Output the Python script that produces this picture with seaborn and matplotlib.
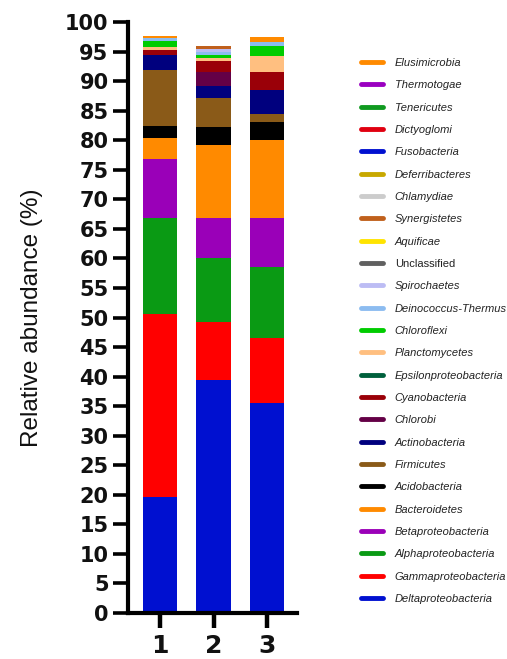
import numpy as np
import pandas as pd
import seaborn as sns
import matplotlib
matplotlib.use("Agg")
import matplotlib.pyplot as plt
from matplotlib.lines import Line2D

# Samples and phyla (bottom of the stack first)
samples = ["1", "2", "3"]
phyla = [
    "Deltaproteobacteria", "Gammaproteobacteria", "Alphaproteobacteria",
    "Betaproteobacteria", "Bacteroidetes", "Acidobacteria", "Firmicutes",
    "Actinobacteria", "Chlorobi", "Cyanobacteria", "Epsilonproteobacteria",
    "Planctomycetes", "Chloroflexi", "Deinococcus-Thermus", "Spirochaetes",
    "Unclassified", "Aquificae", "Synergistetes", "Chlamydiae",
    "Deferribacteres", "Fusobacteria", "Dictyoglomi", "Tenericutes",
    "Thermotogae", "Elusimicrobia",
]
colors = [
    "#0010d0", "#ff0000", "#0a9a14", "#9a00b8", "#ff8a00", "#000000",
    "#8a5a18", "#00007e", "#640046", "#9a0008", "#00603c", "#ffbf80",
    "#00cc00", "#8cbcf0", "#bcbcf4", "#606060", "#ffe400", "#c0601c",
    "#cccccc", "#c8a800", "#0010d0", "#e00010", "#109a20", "#9a00c0",
    "#ff8a00",
]

# Relative abundance (%) per phylum for samples 1, 2, 3
deltaproteobacteria = [19.6, 39.4, 35.6]
gammaproteobacteria = [31.0, 9.9, 11.0]
alphaproteobacteria = [16.2, 10.7, 12.0]
betaproteobacteria = [10.0, 6.9, 8.2]
bacteroidetes = [3.6, 12.3, 13.3]
acidobacteria = [2.0, 3.1, 3.0]
firmicutes = [9.5, 4.8, 1.4]
actinobacteria = [2.5, 2.0, 4.0]
chlorobi = [0.0, 2.4, 0.0]
cyanobacteria = [0.9, 1.9, 3.0]
epsilonproteobacteria = [0.0, 0.0, 0.0]
planctomycetes = [0.5, 0.5, 2.7]
chloroflexi = [1.0, 0.6, 1.8]
deinococcus_thermus = [0.5, 0.4, 0.6]
spirochaetes = [0.0, 0.6, 0.0]
unclassified = [0.0, 0.0, 0.0]
aquificae = [0.0, 0.0, 0.0]
synergistetes = [0.0, 0.5, 0.0]
chlamydiae = [0.0, 0.0, 0.0]
deferribacteres = [0.0, 0.0, 0.0]
fusobacteria = [0.0, 0.0, 0.0]
dictyoglomi = [0.0, 0.0, 0.0]
tenericutes = [0.0, 0.0, 0.0]
thermotogae = [0.0, 0.0, 0.0]
elusimicrobia = [0.4, 0.0, 0.8]

values = [
    deltaproteobacteria, gammaproteobacteria, alphaproteobacteria,
    betaproteobacteria, bacteroidetes, acidobacteria, firmicutes,
    actinobacteria, chlorobi, cyanobacteria, epsilonproteobacteria,
    planctomycetes, chloroflexi, deinococcus_thermus, spirochaetes,
    unclassified, aquificae, synergistetes, chlamydiae, deferribacteres,
    fusobacteria, dictyoglomi, tenericutes, thermotogae, elusimicrobia,
]

rows = []
for name, vals in zip(phyla, values):
    for s, v in zip(samples, vals):
        rows.append({"sample": int(s), "phylum": name, "abundance": v})
df = pd.DataFrame(rows)

sns.set_style("ticks")
plt.rcParams["font.family"] = ["Liberation Sans", "DejaVu Sans"]

fig = plt.figure(figsize=(5.07, 6.59), dpi=100)
ax = fig.add_axes([128 / 507, 1 - 613 / 659, (297 - 128) / 507, (613 - 22) / 659])

palette = dict(zip(phyla, colors))
sns.histplot(
    data=df, x="sample", weights="abundance", hue="phylum",
    hue_order=phyla[::-1], palette=palette, multiple="stack",
    discrete=True, shrink=0.65, alpha=1, linewidth=0, legend=False, ax=ax,
)

ax.set_xlim(0.4, 3.56)
ax.set_ylim(0, 100)
ax.set_yticks(np.arange(0, 101, 5))
ax.set_xticks([1, 2, 3])
ax.set_xticklabels(samples)
ax.set_xlabel("")
ax.set_ylabel("Relative abundance (%)", fontsize=17.5, labelpad=16, color="#111111")

for side in ("top", "right"):
    ax.spines[side].set_visible(False)
for side in ("left", "bottom"):
    ax.spines[side].set_linewidth(3)
    ax.spines[side].set_color("black")
ax.tick_params(axis="y", length=11, width=2.6, direction="out", color="black",
               labelcolor="#111111", pad=3)
ax.tick_params(axis="x", length=11, width=3.2, direction="out", color="black",
               labelcolor="#111111", pad=4)
for lab in ax.get_yticklabels():
    lab.set_family("DejaVu Sans")
    lab.set_fontweight("bold")
    lab.set_fontsize(15)
for lab in ax.get_xticklabels():
    lab.set_family("DejaVu Sans")
    lab.set_fontweight("bold")
    lab.set_fontsize(18)

# Legend with short colour strokes, top entry first
handles = [Line2D([0], [0], color=c, lw=3.5) for c in colors[::-1]]
labels = phyla[::-1]
leg = fig.legend(
    handles, labels, loc="upper left", bbox_to_anchor=(361 / 507, 1 - 58 / 659),
    frameon=False, fontsize=8.0, handlelength=1.95, handletextpad=1.1,
    labelspacing=1.11, borderpad=0, borderaxespad=0,
)
for t in leg.get_texts():
    t.set_color("#222222")
    if t.get_text() != "Unclassified":
        t.set_style("italic")

fig.savefig("out.png", dpi=100)
